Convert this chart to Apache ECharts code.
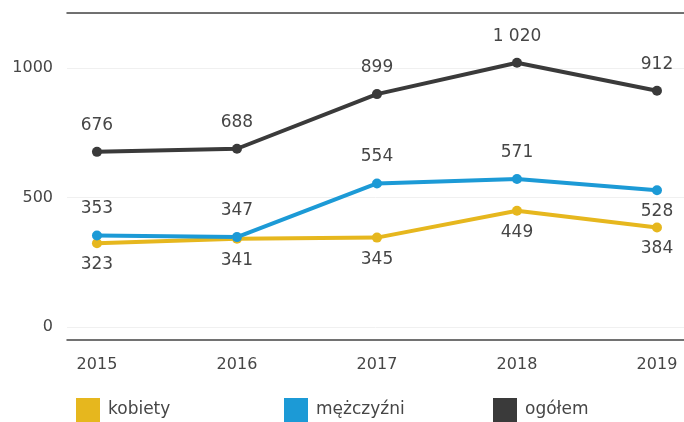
<!DOCTYPE html>
<html><head><meta charset="utf-8">
<script src="https://cdn.jsdelivr.net/npm/echarts@6/dist/echarts.min.js"></script>
<style>html,body{margin:0;padding:0;background:#fff;overflow:hidden}#c{width:684px;height:422px}</style>
</head><body><div id="c"></div>
<script>
const years = [2015, 2016, 2017, 2018, 2019];
const kobiety = [323, 341, 345, 449, 384];
const mezczyzni = [353, 347, 554, 571, 528];
const ogolem = [676, 688, 899, 1020, 912];
const yTicks = [0, 500, 1000];
const names = ['kobiety', 'mężczyźni', 'ogółem'];
const colors = ['#E6B71E', '#1C9AD6', '#3A3A3A'];
const menBelow = [false, false, false, false, true];

const FONT = 'DejaVu Sans';
const TXT = '#464646';
const fmt = v => String(v).replace(/\B(?=(\d{3})+(?!\d))/g, ' ');

function mk(name, vals, color, posFn) {
  return {
    name: name, type: 'line', data: vals.map((v, i) => {
      const pos = posFn(i);
      return {
        value: [years[i], v],
        label: { position: pos, distance: pos === 'top' ? 13 : 8 }
      };
    }),
    lineStyle: { color: color, width: 4 },
    itemStyle: { color: color },
    symbol: 'circle', symbolSize: 10,
    label: {
      show: true, color: TXT, fontFamily: FONT, fontSize: 17,
      formatter: p => fmt(p.value[1])
    },
    z: 3
  };
}

const chart = echarts.init(document.getElementById('c'));
chart.setOption({
  animation: false,
  textStyle: { fontFamily: FONT },
  grid: { left: 67, right: 0, top: 13, bottom: 95 },
  xAxis: [{
    type: 'value', min: 2014.786, max: 2019.193, position: 'bottom', offset: 13,
    axisLine: { show: true, onZero: false, lineStyle: { color: '#444', width: 1.5 } },
    axisTick: { show: false },
    splitLine: { show: false },
    axisLabel: { customValues: years, formatter: v => String(v), color: TXT, fontFamily: FONT, fontSize: 16, margin: 17 }
  }, {
    type: 'value', min: 2014.786, max: 2019.193, position: 'top',
    axisLine: { show: true, onZero: false, lineStyle: { color: '#444', width: 1.5 } },
    axisTick: { show: false }, axisLabel: { show: false }, splitLine: { show: false }
  }],
  yAxis: {
    type: 'value', min: 0, max: 1212, interval: 500,
    axisLine: { show: false }, axisTick: { show: false },
    axisLabel: { customValues: yTicks, formatter: v => String(v), color: TXT, fontFamily: FONT, fontSize: 16, margin: 14 },
    splitLine: { show: true, lineStyle: { color: '#f0f0f0', width: 1 } }
  },
  legend: names.map((n, i) => ({
    data: [n], left: [76, 284, 493][i], top: 398,
    itemWidth: 24, itemHeight: 24, itemGap: 0, icon: 'rect',
    textStyle: { color: TXT, fontFamily: FONT, fontSize: 17, padding: [3, 0, 0, 3] },
    padding: 0
  })),
  series: [
    mk(names[0], kobiety, colors[0], i => 'bottom'),
    mk(names[1], mezczyzni, colors[1], i => menBelow[i] ? 'bottom' : 'top'),
    mk(names[2], ogolem, colors[2], i => 'top')
  ]
});
</script></body></html>
